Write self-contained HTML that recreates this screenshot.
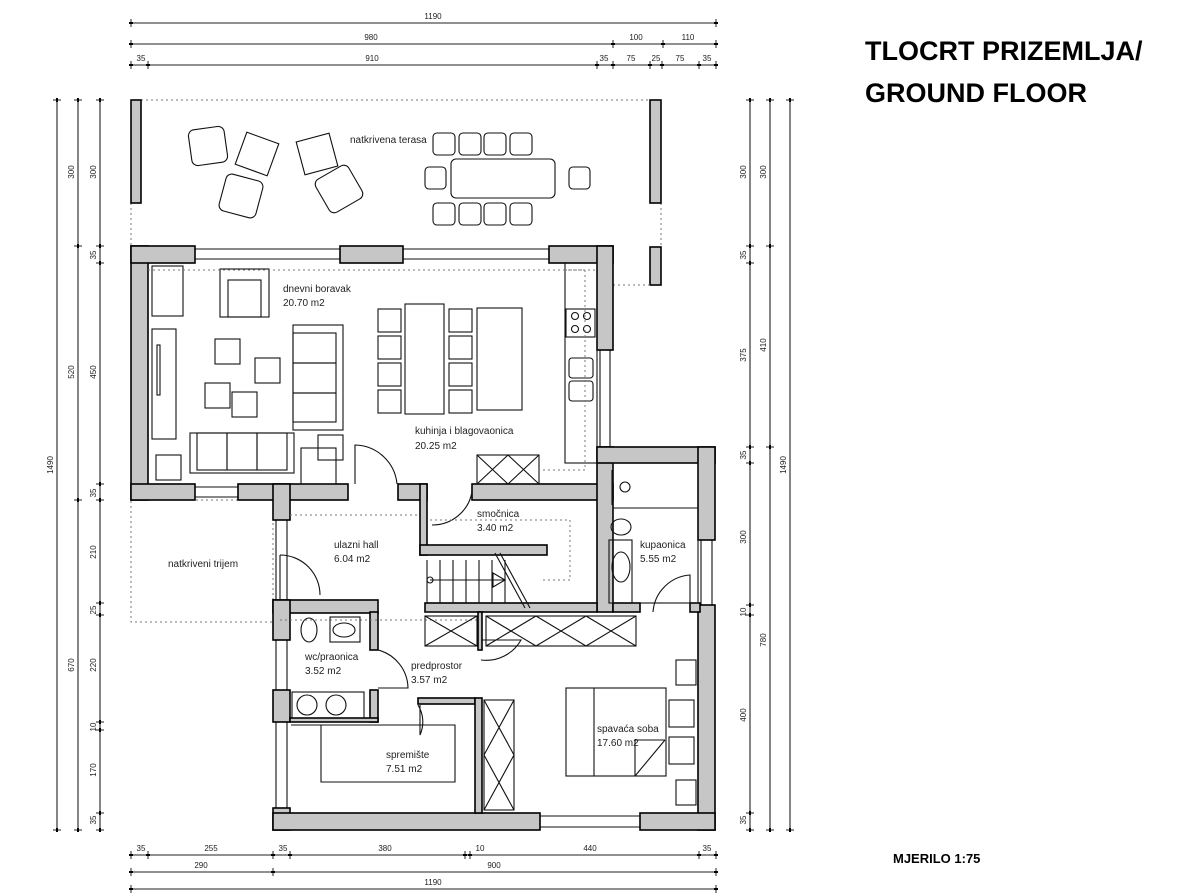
<!DOCTYPE html>
<html><head><meta charset="utf-8"><style>
html,body{margin:0;padding:0;background:#fff;width:1196px;height:894px;overflow:hidden}
svg{display:block}
text{font-family:"Liberation Sans",sans-serif}
.w{fill:#c6c6c6;stroke:#000;stroke-width:1.6}
.f{fill:none;stroke:#111;stroke-width:1.1}
.d{fill:none;stroke:#777;stroke-width:1;stroke-dasharray:2 3}
.lbl{font-size:10px;fill:#222}
.dim{font-size:8px;fill:#222}
</style></head><body>
<svg id="s" width="1196" height="894" viewBox="0 0 1196 894" xmlns="http://www.w3.org/2000/svg">
<!-- titles -->
<text x="865" y="60" font-size="27" font-weight="bold" fill="#000">TLOCRT PRIZEMLJA/</text>
<text x="865" y="102" font-size="27" font-weight="bold" fill="#000">GROUND FLOOR</text>
<text x="893" y="863" font-size="13" font-weight="bold" fill="#000">MJERILO 1:75</text>

<!-- terrace -->
<line class="d" x1="141" y1="100" x2="650" y2="100"/>
<line class="d" x1="131" y1="203" x2="131" y2="246"/>
<line class="d" x1="661" y1="203" x2="661" y2="246"/>
<rect class="w" x="131" y="100" width="10" height="103"/>
<rect class="w" x="650" y="100" width="11" height="103"/>
<rect class="w" x="650" y="247" width="11" height="38"/>
<line class="d" x1="613" y1="285" x2="650" y2="285"/>
<text class="lbl" x="350" y="143">natkrivena terasa</text>
<g class="f">
<rect x="190" y="128" width="36" height="36" rx="6" transform="rotate(-8 208 146)"/>
<rect x="240" y="137" width="34" height="34" transform="rotate(20 257 154)"/>
<rect x="300" y="137" width="34" height="34" transform="rotate(-15 317 154)"/>
<rect x="222" y="177" width="38" height="38" rx="6" transform="rotate(15 241 196)"/>
<rect x="320" y="170" width="38" height="38" rx="6" transform="rotate(-30 339 189)"/>
<rect x="451" y="159" width="104" height="39" rx="5"/>
<rect x="425" y="167" width="21" height="22" rx="4"/><rect x="569" y="167" width="21" height="22" rx="4"/>
<rect x="433" y="133" width="22" height="22" rx="4"/><rect x="459" y="133" width="22" height="22" rx="4"/><rect x="484" y="133" width="22" height="22" rx="4"/><rect x="510" y="133" width="22" height="22" rx="4"/>
<rect x="433" y="203" width="22" height="22" rx="4"/><rect x="459" y="203" width="22" height="22" rx="4"/><rect x="484" y="203" width="22" height="22" rx="4"/><rect x="510" y="203" width="22" height="22" rx="4"/>
</g>
<!-- trijem -->
<rect class="d" x="131" y="500" width="142" height="122"/>
<text class="lbl" x="168" y="567">natkriveni trijem</text>

<!-- windows thin -->
<g class="f">
<line x1="195" y1="249" x2="340" y2="249"/><line x1="195" y1="259" x2="340" y2="259"/>
<line x1="403" y1="249" x2="549" y2="249"/><line x1="403" y1="259" x2="549" y2="259"/>
<line x1="600" y1="350" x2="600" y2="447"/><line x1="610" y1="350" x2="610" y2="447"/>
<line x1="276" y1="520" x2="276" y2="600"/><line x1="287" y1="520" x2="287" y2="600"/>
<line x1="276" y1="640" x2="276" y2="690"/><line x1="287" y1="640" x2="287" y2="690"/>
<line x1="276" y1="722" x2="276" y2="808"/><line x1="287" y1="722" x2="287" y2="808"/>
<line x1="701" y1="540" x2="701" y2="605"/><line x1="712" y1="540" x2="712" y2="605"/>
<line x1="540" y1="816" x2="640" y2="816"/><line x1="540" y1="827" x2="640" y2="827"/>
<line x1="195" y1="487" x2="238" y2="487"/><line x1="195" y1="497" x2="238" y2="497"/>
</g>

<!-- walls -->
<g class="w">
<rect x="131" y="246" width="17" height="254"/>
<rect x="131" y="246" width="64" height="17"/>
<rect x="340" y="246" width="63" height="17"/>
<rect x="549" y="246" width="64" height="17"/>
<rect x="597" y="246" width="16" height="104"/>
<rect x="131" y="484" width="64" height="16"/>
<rect x="238" y="484" width="110" height="16"/>
<rect x="273" y="484" width="17" height="36"/>
<rect x="398" y="484" width="29" height="16"/>
<rect x="420" y="484" width="7" height="71"/>
<rect x="420" y="545" width="127" height="10"/>
<rect x="472" y="484" width="141" height="16"/>
<rect x="597" y="447" width="16" height="165"/>
<rect x="597" y="447" width="118" height="16"/>
<rect x="698" y="447" width="17" height="93"/>
<rect x="698" y="605" width="17" height="225"/>
<rect x="273" y="600" width="105" height="13"/>
<rect x="425" y="603" width="172" height="9"/>
<rect x="613" y="603" width="27" height="9"/>
<rect x="690" y="603" width="10" height="9"/>
<rect x="273" y="600" width="17" height="40"/>
<rect x="273" y="690" width="17" height="32"/>
<rect x="273" y="808" width="17" height="22"/>
<rect x="273" y="813" width="267" height="17"/>
<rect x="640" y="813" width="75" height="17"/>
<rect x="370" y="612" width="8" height="38"/>
<rect x="370" y="690" width="8" height="32"/>
<rect x="290" y="718" width="88" height="4"/>
<rect x="418" y="698" width="57" height="6"/>
<rect x="475" y="698" width="7" height="115"/>
<rect x="478" y="612" width="4" height="38"/>
</g>

<!-- upper furniture -->
<g class="f">
<rect x="152" y="266" width="31" height="50"/>
<rect x="152" y="329" width="24" height="110"/><rect x="157" y="345" width="3" height="50"/>
<rect x="220" y="269" width="49" height="48"/><rect x="228" y="280" width="33" height="37"/>
<rect x="293" y="325" width="50" height="105"/><rect x="293" y="333" width="43" height="30"/><rect x="293" y="363" width="43" height="30"/><rect x="293" y="393" width="43" height="29"/>
<rect x="215" y="339" width="25" height="25"/><rect x="255" y="358" width="25" height="25"/><rect x="205" y="383" width="25" height="25"/><rect x="232" y="392" width="25" height="25"/>
<rect x="190" y="433" width="104" height="40"/><rect x="197" y="433" width="30" height="37"/><rect x="227" y="433" width="30" height="37"/><rect x="257" y="433" width="30" height="37"/>
<rect x="156" y="455" width="25" height="25"/>
<rect x="301" y="448" width="35" height="36"/><rect x="318" y="435" width="25" height="25"/>
<rect x="378" y="309" width="23" height="23"/><rect x="378" y="336" width="23" height="23"/><rect x="378" y="363" width="23" height="23"/><rect x="378" y="390" width="23" height="23"/>
<rect x="405" y="304" width="39" height="110"/>
<rect x="449" y="309" width="23" height="23"/><rect x="449" y="336" width="23" height="23"/><rect x="449" y="363" width="23" height="23"/><rect x="449" y="390" width="23" height="23"/>
<rect x="477" y="308" width="45" height="102"/>
<rect x="565" y="263" width="32" height="200"/>
<rect x="566" y="309" width="29" height="28"/><circle cx="575" cy="316" r="3.5"/><circle cx="587" cy="316" r="3.5"/><circle cx="575" cy="329" r="3.5"/><circle cx="587" cy="329" r="3.5"/>
<rect x="569" y="358" width="24" height="20" rx="3"/><rect x="569" y="381" width="24" height="20" rx="3"/>
<rect x="477" y="455" width="62" height="29"/><path d="M477 455L508 484M508 455L477 484M508 455L539 484M539 455L508 484"/>
<path d="M355 484 L355 445 A43 43 0 0 1 397 484"/>
<path d="M432 525 A40 40 0 0 0 472 492"/>
<path d="M280 555 A40 40 0 0 1 320 595 M280 555 L280 600"/>
</g>
<g class="d">
<path d="M148 270 L597 270 M565 270 L585 270 L585 470 L543 470"/>
<path d="M430 520 L570 520 L570 580 L540 580"/>
<line x1="290" y1="515" x2="420" y2="515"/>
<line x1="280" y1="620" x2="480" y2="620"/>
</g>
<!-- stairs -->
<g class="f">
<line x1="427" y1="560" x2="427" y2="603"/>
<line x1="440" y1="560" x2="440" y2="603"/><line x1="453" y1="560" x2="453" y2="603"/><line x1="466" y1="560" x2="466" y2="603"/><line x1="479" y1="560" x2="479" y2="603"/><line x1="492" y1="560" x2="492" y2="603"/><line x1="505" y1="560" x2="505" y2="603"/>
<line x1="430" y1="580" x2="505" y2="580"/><circle cx="430" cy="580" r="3"/>
<path d="M493 573 L505 580 L493 587 Z"/>
<line x1="495" y1="553" x2="525" y2="608"/><line x1="500" y1="553" x2="530" y2="608"/>
<line x1="425" y1="612" x2="460" y2="612"/>
</g>
<!-- bathroom -->
<g class="f">
<rect x="613" y="463" width="85" height="140"/>
<line x1="613" y1="508" x2="698" y2="508"/>
<line x1="612" y1="470" x2="612" y2="505"/><circle cx="625" cy="487" r="5"/>
<ellipse cx="621" cy="527" rx="10" ry="8"/>
<rect x="609" y="540" width="23" height="63"/><ellipse cx="621" cy="567" rx="9" ry="15"/>
<path d="M653 612 A40 40 0 0 1 690 575 L690 612"/>
</g>
<!-- lower rooms furniture -->
<g class="f">
<ellipse cx="309" cy="630" rx="8" ry="12"/>
<rect x="330" y="617" width="30" height="25"/><ellipse cx="344" cy="630" rx="11" ry="7"/>
<rect x="292" y="692" width="72" height="26"/><circle cx="307" cy="705" r="10"/><circle cx="336" cy="705" r="10"/>
<path d="M378 650 A40 40 0 0 1 408 688 L378 688"/>
<path d="M420 705 L420 735 A32 32 0 0 0 418 705"/>
<path d="M481 660 A40 40 0 0 0 521 640 L481 640"/>
<path d="M291 725 L455 725 L455 782 L321 782 L321 725"/>
<rect x="425" y="616" width="52" height="30"/><path d="M425 616L477 646M477 616L425 646"/>
<rect x="486" y="616" width="150" height="30"/><path d="M486 616L536 646M536 616L486 646M536 616L586 646M586 616L536 646M586 616L636 646M636 616L586 646"/>
<rect x="484" y="700" width="30" height="110"/><path d="M484 700L514 755M514 700L484 755M484 755L514 810M514 755L484 810"/>
<rect x="566" y="688" width="100" height="88"/><line x1="594" y1="688" x2="594" y2="776"/>
<path d="M635 776 L635 740 L665 740"/><line x1="635" y1="776" x2="665" y2="740"/>
<rect x="676" y="660" width="20" height="25"/><rect x="669" y="700" width="25" height="27"/><rect x="669" y="737" width="25" height="27"/><rect x="676" y="780" width="20" height="25"/>
</g>

<!-- room labels -->
<text class="lbl" x="283" y="292">dnevni boravak</text><text class="lbl" x="283" y="306">20.70 m2</text>
<text class="lbl" x="415" y="434">kuhinja i blagovaonica</text><text class="lbl" x="415" y="449">20.25 m2</text>
<text class="lbl" x="477" y="517">smočnica</text><text class="lbl" x="477" y="531">3.40 m2</text>
<text class="lbl" x="334" y="548">ulazni hall</text><text class="lbl" x="334" y="562">6.04 m2</text>
<text class="lbl" x="640" y="548">kupaonica</text><text class="lbl" x="640" y="562">5.55 m2</text>
<text class="lbl" x="305" y="660">wc/praonica</text><text class="lbl" x="305" y="674">3.52 m2</text>
<text class="lbl" x="411" y="669">predprostor</text><text class="lbl" x="411" y="683">3.57 m2</text>
<text class="lbl" x="386" y="758">spremište</text><text class="lbl" x="386" y="772">7.51 m2</text>
<text class="lbl" x="597" y="732">spavaća soba</text><text class="lbl" x="597" y="746">17.60 m2</text>
<g id="dims"></g>
</svg>
<script>
var g=document.getElementById('dims'),NS='http://www.w3.org/2000/svg';
function el(t,a,txt){var e=document.createElementNS(NS,t);for(var k in a)e.setAttribute(k,a[k]);if(txt)e.textContent=txt;g.appendChild(e);return e;}
function H(y,ticks,labels){el('line',{x1:ticks[0],y1:y,x2:ticks[ticks.length-1],y2:y,stroke:'#222','stroke-width':1.1});
ticks.forEach(function(x){el('line',{x1:x,y1:y-4,x2:x,y2:y+4,stroke:'#222','stroke-width':1});el('line',{x1:x-2,y1:y,x2:x+2,y2:y,stroke:'#000','stroke-width':2});});
labels.forEach(function(l){el('text',{x:l[0],y:y-4,'text-anchor':'middle','class':'dim'},l[1]);});}
function V(x,ticks,labels){el('line',{x1:x,y1:ticks[0],x2:x,y2:ticks[ticks.length-1],stroke:'#222','stroke-width':1.1});
ticks.forEach(function(y){el('line',{x1:x-4,y1:y,x2:x+4,y2:y,stroke:'#222','stroke-width':1});el('line',{x1:x,y1:y-2,x2:x,y2:y+2,stroke:'#000','stroke-width':2});});
labels.forEach(function(l){el('text',{x:x-4,y:l[0],'text-anchor':'middle','class':'dim',transform:'rotate(-90 '+(x-4)+' '+l[0]+')'},l[1]);});}
H(23,[131,716],[[433,'1190']]);
H(44,[131,613,663,716],[[371,'980'],[636,'100'],[688,'110']]);
H(65,[131,148,597,613,650,662,699,716],[[141,'35'],[372,'910'],[604,'35'],[631,'75'],[656,'25'],[680,'75'],[707,'35']]);
H(855,[131,148,273,290,465,470,699,716],[[141,'35'],[211,'255'],[283,'35'],[385,'380'],[480,'10'],[590,'440'],[707,'35']]);
H(872,[131,273,716],[[201,'290'],[494,'900']]);
H(889,[131,716],[[433,'1190']]);
V(57,[100,830],[[465,'1490']]);
V(78,[100,246,500,830],[[172,'300'],[372,'520'],[665,'670']]);
V(100,[100,246,263,484,500,603,615,722,730,813,830],[[172,'300'],[255,'35'],[372,'450'],[493,'35'],[552,'210'],[610,'25'],[665,'220'],[727,'10'],[770,'170'],[820,'35']]);
V(750,[100,246,263,447,463,605,615,813,830],[[172,'300'],[255,'35'],[355,'375'],[455,'35'],[537,'300'],[612,'10'],[715,'400'],[820,'35']]);
V(770,[100,246,447,830],[[172,'300'],[345,'410'],[640,'780']]);
V(790,[100,830],[[465,'1490']]);
</script>
</body></html>
